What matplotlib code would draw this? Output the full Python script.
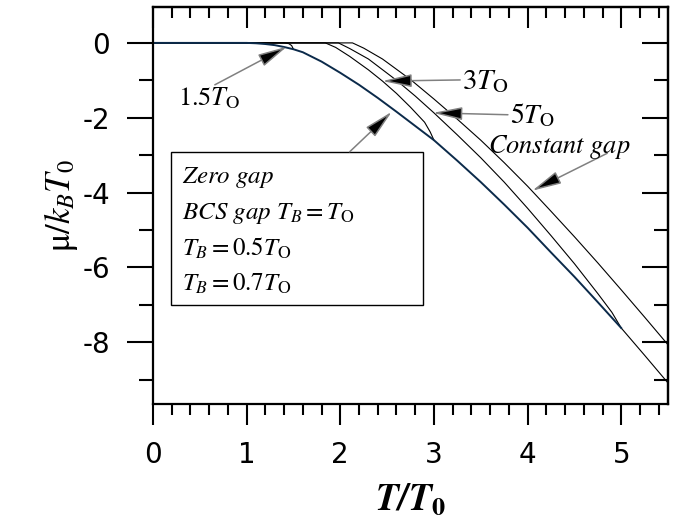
import numpy as np
import matplotlib.pyplot as plt
from matplotlib.patches import Rectangle

plt.rcParams['mathtext.fontset'] = 'stix'
plt.rcParams['font.family'] = 'DejaVu Sans'
plt.rcParams['axes.unicode_minus'] = False

# zero gap curve
t_zero = [0, 1.0, 1.1, 1.2, 1.3, 1.4, 1.5, 1.6, 1.8, 2.0, 2.2, 2.4, 2.6, 2.8,
          3.0, 3.25, 3.5, 3.75, 4.0, 4.25, 4.5, 4.75, 5.0]
mu_zero = [0, 0, -0.01, -0.03, -0.06, -0.11, -0.17, -0.25, -0.5, -0.8, -1.12,
           -1.47, -1.84, -2.22, -2.6, -3.15, -3.72, -4.32, -4.94, -5.6, -6.25,
           -6.93, -7.62]

# BCS curves, gap closing at 1.5, 3 and 5 T0
t_15 = [0, 1.40, 1.45, 1.48, 1.5]
mu_15 = [0, 0, -0.02, -0.07, -0.17]

t_3 = [0, 1.84, 1.95, 2.1, 2.3, 2.45, 2.6, 2.75, 2.9, 2.96, 3.0]
mu_3 = [0, 0, -0.12, -0.36, -0.72, -1.02, -1.35, -1.72, -2.12, -2.38, -2.6]

t_5 = [0, 1.98, 2.1, 2.3, 2.6, 2.8, 3.0, 3.25, 3.5, 3.75, 4.0, 4.25, 4.5,
       4.75, 4.9, 5.0, 5.25, 5.5]
mu_5 = [0, 0, -0.15, -0.43, -1.0, -1.42, -1.87, -2.46, -3.07, -3.72, -4.42,
        -5.15, -5.9, -6.7, -7.2, -7.62, -8.35, -9.09]

# constant gap
t_const = [0, 2.13, 2.25, 2.45, 2.75, 3.0, 3.25, 3.5, 3.75, 4.0, 4.25, 4.5,
           4.75, 5.0, 5.25, 5.5]
mu_const = [0, 0, -0.14, -0.43, -0.98, -1.5, -2.04, -2.6, -3.2, -3.83, -4.5,
            -5.18, -5.88, -6.6, -7.33, -8.07]

box_lines = [r'$\mathit{Zero\ gap}$',
             r'$\mathit{BCS\ gap}\ T_B = T_\mathrm{O}$',
             r'$T_B = 0.5T_\mathrm{O}$',
             r'$T_B = 0.7T_\mathrm{O}$']

fig = plt.figure(figsize=(6.81, 5.21), dpi=100)
ax = fig.add_axes([0.2247, 0.2246, 0.9810 - 0.2247, 0.9866 - 0.2246])

ax.plot(t_15, mu_15, color='black', lw=0.8)
ax.plot(t_3, mu_3, color='black', lw=0.8)
ax.plot(t_5, mu_5, color='black', lw=0.8)
ax.plot(t_const, mu_const, color='black', lw=0.8)
ax.plot(t_zero, mu_zero, color='#0b2a4a', lw=1.4)

ax.set_xlim(0, 5.5)
ax.set_ylim(-9.65, 0.96)

for s in ax.spines.values():
    s.set_linewidth(1.6)

ax.set_xticks(np.arange(0, 6, 1))
ax.set_xticks(np.arange(0, 5.6, 0.2), minor=True)
ax.set_yticks(np.arange(-8, 1, 2))
ax.set_yticks(np.arange(-9, 1, 1), minor=True)
ax.tick_params(axis='x', which='major', direction='out', length=15, width=1.5,
               pad=12, labelsize=20)
ax.tick_params(axis='x', which='minor', direction='out', length=8, width=1.5)
ax.tick_params(axis='y', which='major', direction='out', length=19, width=1.5,
               pad=12, labelsize=20)
ax.tick_params(axis='y', which='minor', direction='out', length=10, width=1.5)

top = ax.secondary_xaxis('top')
top.set_xticks(np.arange(0, 6, 1))
top.set_xticks(np.arange(0, 5.6, 0.2), minor=True)
top.tick_params(which='major', direction='in', length=15, width=1.5, labeltop=False)
top.tick_params(which='minor', direction='in', length=8, width=1.5)
top.spines['top'].set_linewidth(1.6)

right = ax.secondary_yaxis('right')
right.set_yticks(np.arange(-8, 1, 2))
right.set_yticks(np.arange(-9, 1, 1), minor=True)
right.tick_params(which='major', direction='in', length=19, width=1.5, labelright=False)
right.tick_params(which='minor', direction='in', length=10, width=1.5)
right.spines['right'].set_linewidth(1.6)

ax.set_xlabel(r'$\mathbfit{T/T}_\mathbf{0}$', fontsize=27, labelpad=9)
ax.set_ylabel(r'$\mathrm{\mu}/k_BT_0$', fontsize=25, labelpad=2)

# legend-like box
ax.add_patch(Rectangle((0.19, -7.0), 2.69, 4.09, fill=False, ec='black', lw=1.0))
for i, line in enumerate(box_lines):
    ax.text(0.31, -3.6 - 0.95 * i, line, fontsize=18, va='center', ha='left')

arrow = dict(arrowstyle='-|>,head_length=0.9,head_width=0.2', fc='black',
             ec='#808080', lw=1.1, shrinkA=0, shrinkB=0, mutation_scale=20)
ax.annotate('', xy=(1.43, -0.1), xytext=(0.66, -1.12), arrowprops=arrow)
ax.text(0.27, -1.47, r'$1.5T_\mathrm{O}$', fontsize=19, va='center', ha='left')
ax.annotate('', xy=(2.45, -1.02), xytext=(3.28, -0.99), arrowprops=arrow)
ax.text(3.30, -1.02, r'$3T_\mathrm{O}$', fontsize=21, va='center', ha='left')
ax.annotate('', xy=(2.99, -1.87), xytext=(3.79, -1.92), arrowprops=arrow)
ax.text(3.81, -1.95, r'$5T_\mathrm{O}$', fontsize=20, va='center', ha='left')
ax.annotate('', xy=(2.55, -1.84), xytext=(2.1, -2.91), arrowprops=arrow)
ax.annotate('', xy=(4.05, -3.95), xytext=(4.85, -2.95), arrowprops=arrow)
ax.text(3.58, -2.78, r'$\mathit{Constant\ gap}$', fontsize=19, va='center', ha='left')

fig.savefig('out.png', dpi=100)
